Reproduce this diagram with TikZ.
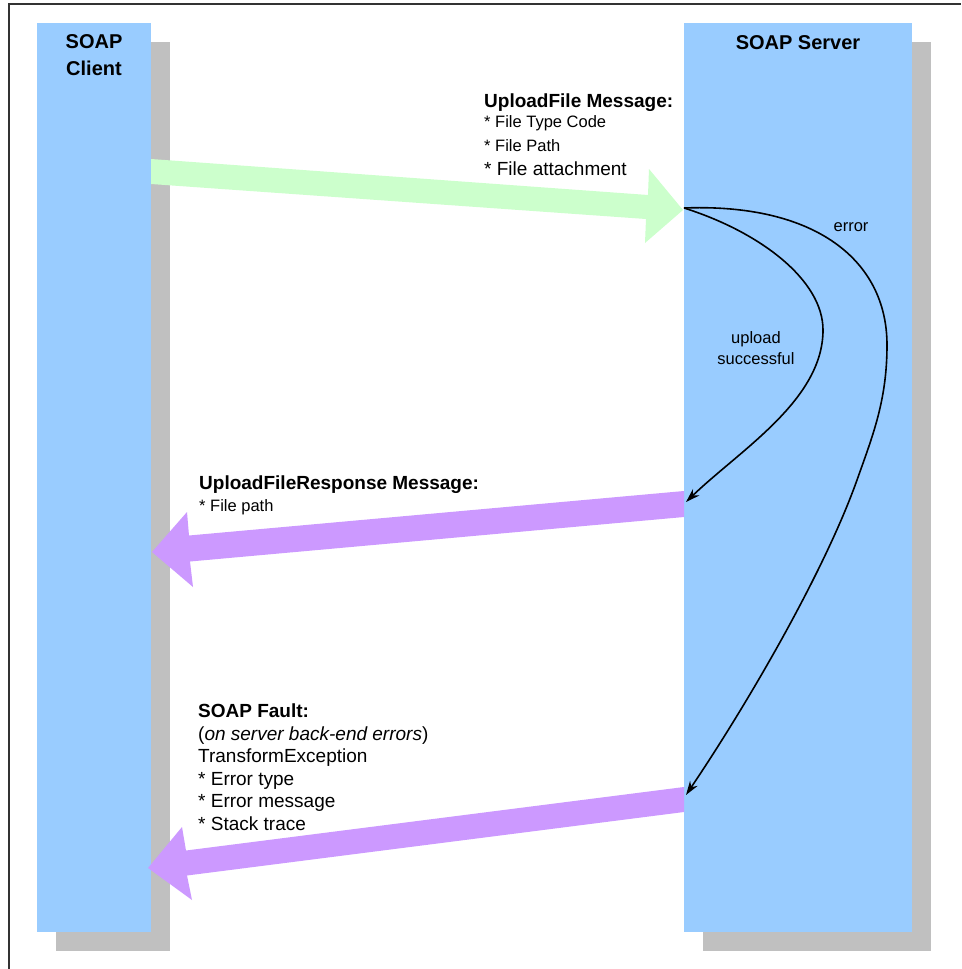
\documentclass[tikz,border=0pt]{standalone}
\usepackage{fontspec}
\setmainfont{Liberation Sans}
\usetikzlibrary{arrows.meta}
\definecolor{laneblue}{HTML}{99CCFF}
\definecolor{shadowgray}{HTML}{C0C0C0}
\definecolor{msggreen}{HTML}{CCFFCC}
\definecolor{msgpurple}{HTML}{CC99FF}
\tikzset{
  lanebox/.style={fill=laneblue, draw=none, inner sep=0pt, outer sep=0pt, anchor=north west},
  shadowbox/.style={fill=shadowgray, draw=none, inner sep=0pt, outer sep=0pt, anchor=north west},
  txt/.style={inner sep=0pt, anchor=base west, font=\fontsize{19}{22}\selectfont},
  txtsmall/.style={inner sep=0pt, anchor=base west, font=\fontsize{16.5}{20}\selectfont},
  head/.style={inner sep=0pt, anchor=base west, font=\bfseries\fontsize{19}{22}\selectfont},
  title/.style={inner sep=0pt, anchor=base, font=\bfseries\fontsize{20}{24}\selectfont},
  curvelbl/.style={inner sep=0pt, anchor=base, font=\fontsize{16.5}{20}\selectfont},
  flow/.style={line width=1.6pt, -{Stealth[length=14pt,width=9pt]}},
}
\begin{document}
\begin{tikzpicture}[x=1pt,y=-1pt]
\useasboundingbox (0,0) rectangle (961,969);
\fill[white] (0,0) rectangle (961,969);
% frame
\draw[line width=1.6pt, black!80] (9,969) -- (9,4) -- (961,4);
% shadows
\node[shadowbox, minimum width=114pt, minimum height=909pt] (clientshadow) at (56,42) {};
\node[shadowbox, minimum width=228pt, minimum height=909pt] (servershadow) at (703,42) {};
% lanes
\node[lanebox, minimum width=114pt, minimum height=909pt] (client) at (37,23) {};
\node[lanebox, minimum width=228pt, minimum height=909pt] (server) at (684,23) {};
\node[title] (clientt1) at (94,48) {SOAP};
\node[title] (clientt2) at (94,75) {Client};
\node[title] (servert) at (798,49.5) {SOAP Server};
% block arrows
\fill[msggreen] (151,159) -- (648,195) -- (649,169) -- (683,210) -- (645,243) -- (646,219) -- (151,184) -- cycle;
\fill[msgpurple] (684,491) -- (684,517) -- (190,561.5) -- (193,587) -- (152,552) -- (187,512) -- (189,535.5) -- cycle;
\fill[msgpurple] (684,787) -- (684,812) -- (187,875.5) -- (192,900) -- (148,868) -- (182,827) -- (186,850.5) -- cycle;
% message texts
\node[head] (m1a) at (484,107) {UploadFile Message:};
\node[txtsmall] (m1b) at (484,127) {* File Type Code};
\node[txtsmall] (m1c) at (484,151) {* File Path};
\node[txt] (m1d) at (484,175) {* File attachment};
\node[head] (m2a) at (199,489) {UploadFileResponse Message:};
\node[txtsmall] (m2b) at (199,511) {* File path};
\node[head] (m3a) at (198,717) {SOAP Fault:};
\node[txt] (m3b) at (198,740) {(\textit{on server back-end errors})};
\node[txt] (m3c) at (198,762.5) {TransformException};
\node[txt] (m3d) at (198,785) {* Error type};
\node[txt] (m3e) at (198,807.5) {* Error message};
\node[txt] (m3f) at (198,830) {* Stack trace};
% curved flows
\coordinate (recv) at (684,208);
\coordinate (okend) at (686,502);
\coordinate (errend) at (686,795);
\draw[flow] (recv) .. controls (760,232) and (823,280) .. (823,330)
  .. controls (823,400) and (740,450) .. (okend);
\draw[flow] (recv) .. controls (815,203) and (887,260) .. (887,345)
  .. controls (887,400) and (873,435) .. (857,480)
  .. controls (825,570) and (750,700) .. (errend);
\node[curvelbl] (errlbl) at (851,231) {error};
\node[curvelbl] (oklbl1) at (756,343) {upload};
\node[curvelbl] (oklbl2) at (756,364) {successful};
\end{tikzpicture}
\end{document}
